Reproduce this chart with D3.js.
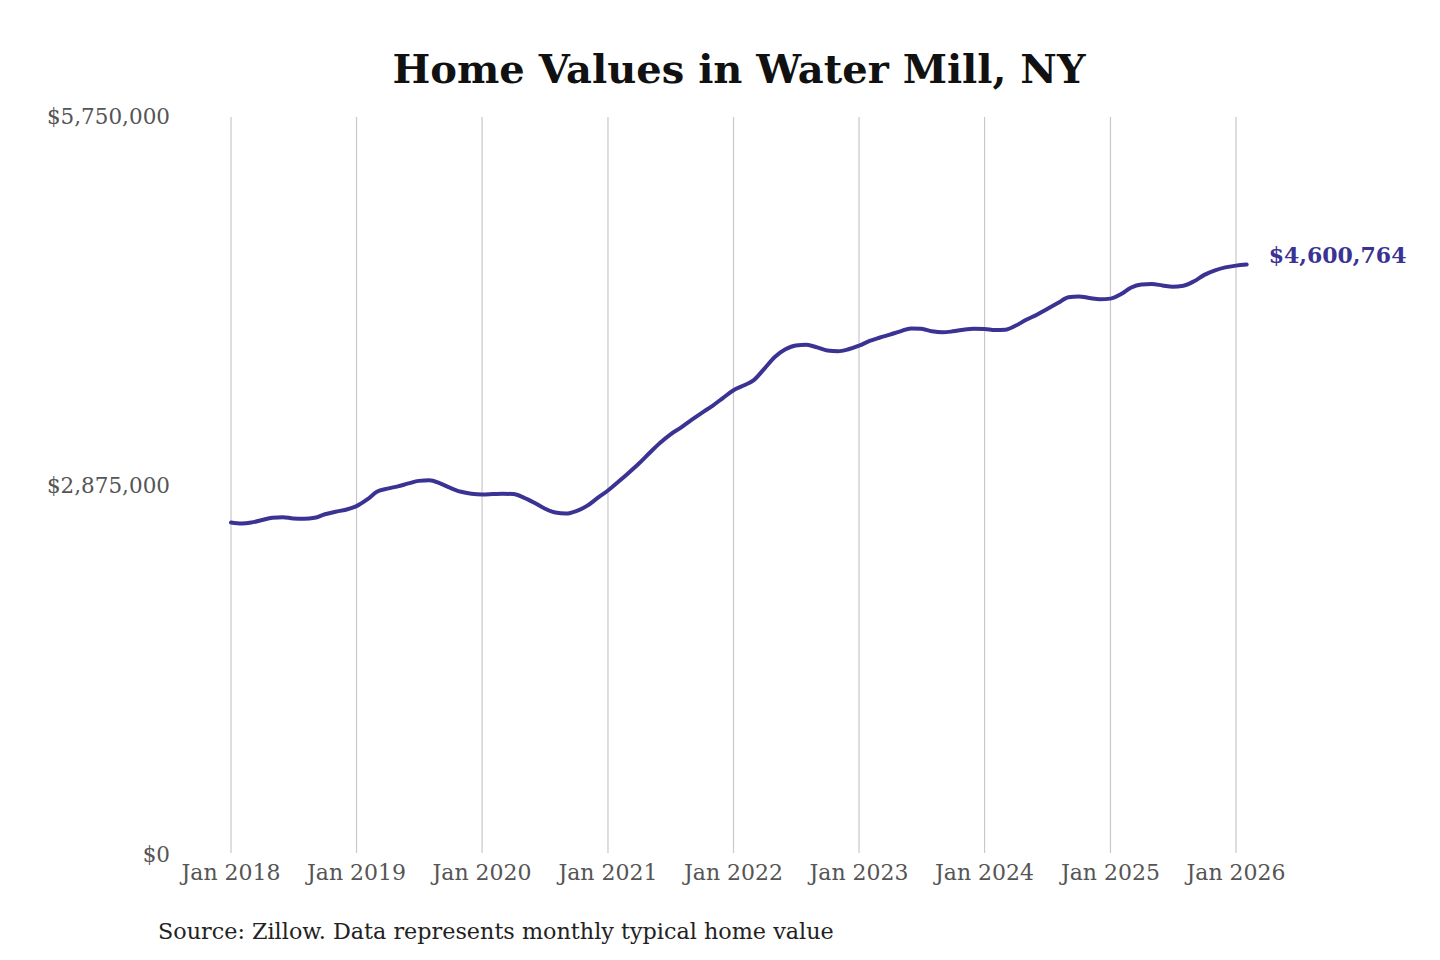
<!DOCTYPE html>
<html><head><meta charset="utf-8">
<script src="https://cdn.jsdelivr.net/npm/d3@7"></script>
<style>
body{margin:0;background:#fff;}
svg{display:block;font-family:"DejaVu Serif",serif;}
</style></head>
<body><svg id="c" width="1440" height="960"></svg>
<script>
const startMonth = "2018-01";
const values = [
 2591000,2583000,2590000,2610000,2628000,2632000,2622000,2620000,2627000,2655000,2675000,2690000,
 2718000,2770000,2830000,2855000,2872000,2895000,2915000,2920000,2895000,2860000,2830000,2815000,
 2809000,2812000,2815000,2812000,2785000,2745000,2700000,2668000,2661000,2680000,2720000,2780000,
 2840000,2910000,2975000,3050000,3130000,3210000,3276000,3330000,3390000,3445000,3500000,3560000,
 3621000,3660000,3700000,3790000,3880000,3940000,3970000,3975000,3955000,3930000,3925000,3940000,
 3968000,4005000,4030000,4055000,4080000,4103000,4100000,4080000,4072000,4080000,4093000,4100000,
 4098000,4090000,4092000,4125000,4170000,4210000,4255000,4300000,4345000,4352000,4340000,4330000,
 4335000,4370000,4420000,4445000,4448000,4438000,4428000,4435000,4470000,4520000,4555000,4578000,
 4592000,4600764
];
const xTickLabels = ["Jan 2018","Jan 2019","Jan 2020","Jan 2021","Jan 2022","Jan 2023","Jan 2024","Jan 2025","Jan 2026"];
const yTicks = [0, 2875000, 5750000];
const title = "Home Values in Water Mill, NY";
const source = "Source: Zillow. Data represents monthly typical home value";

const parse = d3.timeParse("%Y-%m");
const t0 = parse(startMonth);
const data = values.map((v,i)=>({date:d3.timeMonth.offset(t0,i), value:v}));
const tickDates = xTickLabels.map(s=>d3.timeParse("%b %Y")(s));

const svg = d3.select("#c");
const x = d3.scaleTime().domain([tickDates[0], tickDates[tickDates.length-1]]).range([231,1236]);
const y = d3.scaleLinear().domain([0,5750000]).range([855,117]);
const color = "#3a3393";

svg.append("text").attr("x",739).attr("y",83).attr("text-anchor","middle")
  .attr("font-weight","bold").attr("font-size",40).attr("fill","#111").text(title);

// vertical grid
svg.append("g").selectAll("line").data(tickDates).join("line")
  .attr("x1",d=>x(d)).attr("x2",d=>x(d)).attr("y1",y(5750000)).attr("y2",853)
  .attr("stroke","#c8c8c8").attr("stroke-width",1.2);

// x labels
svg.append("g").selectAll("text").data(tickDates).join("text")
  .attr("x",d=>x(d)).attr("y",880).attr("text-anchor","middle")
  .attr("font-size",22).attr("fill","#555").text((d,i)=>xTickLabels[i]);

// y labels
const fmt = d3.format("$,");
svg.append("g").selectAll("text").data(yTicks).join("text")
  .attr("x",170).attr("y",d=>y(d)+7).attr("text-anchor","end")
  .attr("font-size",21.5).attr("fill","#555").text(d=>fmt(d));

// line
svg.append("path").datum(data)
  .attr("d", d3.line().x(d=>x(d.date)).y(d=>y(d.value)).curve(d3.curveMonotoneX))
  .attr("fill","none").attr("stroke",color).attr("stroke-width",4).attr("stroke-linecap","round");

const last = data[data.length-1];
svg.append("text").attr("x",x(last.date)+22).attr("y",y(last.value)-2)
  .attr("font-weight","bold").attr("font-size",22).attr("fill",color).text(fmt(last.value));

svg.append("text").attr("x",158).attr("y",939).attr("font-size",22.3).attr("fill","#222").text(source);
</script></body></html>
